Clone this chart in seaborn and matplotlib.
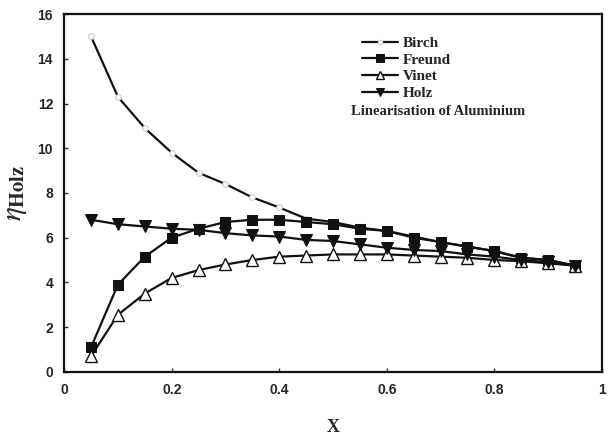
import numpy as np
import pandas as pd
import matplotlib
matplotlib.use("Agg")
import matplotlib.pyplot as plt
import seaborn as sns

x = [0.05, 0.10, 0.15, 0.20, 0.25, 0.30, 0.35, 0.40, 0.45, 0.50,
     0.55, 0.60, 0.65, 0.70, 0.75, 0.80, 0.85, 0.90, 0.95]
birch = [15.0, 12.3, 10.9, 9.8, 8.9, 8.4, 7.8, 7.35, 6.85, 6.7,
         6.45, 6.3, 6.05, 5.8, 5.6, 5.4, 5.1, 5.0, 4.75]
freund = [1.1, 3.9, 5.15, 6.0, 6.4, 6.7, 6.8, 6.8, 6.7, 6.6,
          6.4, 6.3, 6.0, 5.8, 5.6, 5.4, 5.1, 5.0, 4.75]
vinet = [0.7, 2.55, 3.5, 4.2, 4.55, 4.8, 5.0, 5.15, 5.2, 5.25,
         5.25, 5.25, 5.2, 5.15, 5.1, 5.0, 4.95, 4.85, 4.75]
holz = [6.8, 6.6, 6.5, 6.4, 6.35, 6.2, 6.1, 6.05, 5.9, 5.85,
        5.7, 5.55, 5.45, 5.4, 5.25, 5.15, 5.0, 4.9, 4.75]
series_names = ["Birch", "Freund", "Vinet", "Holz"]
legend_title = "Linearisation of Aluminium"
xticks = [0, 0.2, 0.4, 0.6, 0.8, 1]
xticklabels = ["0", "0.2", "0.4", "0.6", "0.8", "1"]
yticks = [0, 2, 4, 6, 8, 10, 12, 14, 16]

df = pd.DataFrame({"x": x * 4,
                   "y": birch + freund + vinet + holz,
                   "s": sum([[n] * len(x) for n in series_names], [])})

sns.set_theme(style="white")
plt.rcParams["font.family"] = ["Liberation Sans", "DejaVu Sans"]
plt.rcParams["mathtext.fontset"] = "stix"

fig = plt.figure(figsize=(6.11, 4.40), dpi=100)
ax = fig.add_axes([0.105, 0.155, 0.880, 0.813])

styles = {
    "Birch": dict(marker="o", markersize=4, markerfacecolor="white",
                  markeredgecolor="#cccccc", markeredgewidth=0.8),
    "Freund": dict(marker="s", markersize=7, markerfacecolor="#111111",
                   markeredgecolor="#111111"),
    "Vinet": dict(marker="^", markersize=8, markerfacecolor="white",
                  markeredgecolor="#111111", markeredgewidth=1.0),
    "Holz": dict(marker="v", markersize=8, markerfacecolor="#111111",
                 markeredgecolor="#111111"),
}
for name in series_names:
    sub = df[df["s"] == name]
    sns.lineplot(data=sub, x="x", y="y", ax=ax, color="#111111",
                 linewidth=1.6, label=name, **styles[name])

ax.set_xlim(0, 1)
ax.set_ylim(0, 16)
ax.set_xticks(xticks)
ax.set_xticklabels(xticklabels)
ax.set_yticks(yticks)
for lab in ax.get_xticklabels() + ax.get_yticklabels():
    lab.set_fontweight("bold")
    lab.set_fontsize(10)
ax.tick_params(direction="in", length=3, width=1, color="#333333",
               bottom=True, left=True, pad=8)
for sp in ax.spines.values():
    sp.set_color("#111111")
    sp.set_linewidth(1.6)

ax.set_xlabel("X", fontsize=13, fontweight="bold", family="Liberation Serif",
              labelpad=16)
ax.set_ylabel(r"$\eta_{\mathbf{Holz}}$", fontsize=21, labelpad=6)

leg = ax.legend(loc="upper left", bbox_to_anchor=(0.542, 0.955), frameon=False,
                prop={"family": "Liberation Serif", "weight": "bold", "size": 11},
                handlelength=2.4, handletextpad=0.3, labelspacing=0.2,
                borderaxespad=0, markerscale=0.8)
ax.text(0.533, 0.745, legend_title, transform=ax.transAxes, fontsize=10.5,
        fontweight="bold", family="Liberation Serif", ha="left", va="top")

fig.savefig("out.png", dpi=100)
